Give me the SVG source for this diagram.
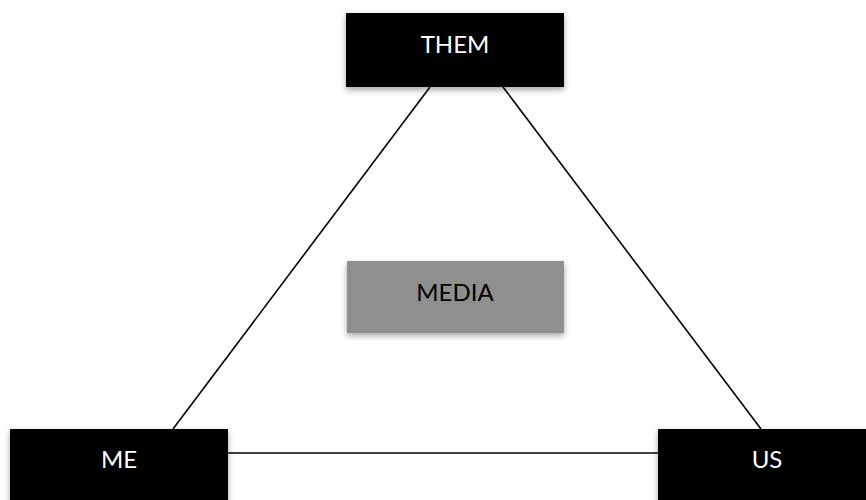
<svg xmlns="http://www.w3.org/2000/svg" width="866" height="500" viewBox="0 0 866 500">
  <defs>
    <filter id="shadow" x="-10%" y="-20%" width="120%" height="160%">
      <feDropShadow dx="0" dy="3" stdDeviation="3" flood-color="#000" flood-opacity="0.35"/>
    </filter>
  </defs>
  <style>
    .box { fill: #000; filter: url(#shadow); }
    .media { fill: #8f8f8f; filter: url(#shadow); }
    .lbl { font-family: Lato, "Liberation Sans", sans-serif; font-size: 24px; text-anchor: middle; fill: #fff; }
    .lbl-dark { fill: #000; }
    .conn { stroke: #000; stroke-width: 1.6; fill: none; }
  </style>
  <rect width="866" height="500" fill="#fff"/>
  <g id="connectors">
    <line class="conn" x1="430" y1="87" x2="173" y2="429"/>
    <line class="conn" x1="503" y1="87" x2="761" y2="429"/>
    <line class="conn" x1="228" y1="453" x2="658" y2="453"/>
  </g>
  <g id="them">
    <rect class="box" x="346" y="13" width="218" height="74"/>
    <text class="lbl" x="455" y="53">THEM</text>
  </g>
  <g id="media">
    <rect class="media" x="347" y="261" width="217" height="72"/>
    <text class="lbl lbl-dark" x="455" y="301">MEDIA</text>
  </g>
  <g id="me">
    <rect class="box" x="10" y="429" width="218" height="80"/>
    <text class="lbl" x="119" y="468">ME</text>
  </g>
  <g id="us">
    <rect class="box" x="658" y="429" width="218" height="80"/>
    <text class="lbl" x="767" y="468">US</text>
  </g>
</svg>
